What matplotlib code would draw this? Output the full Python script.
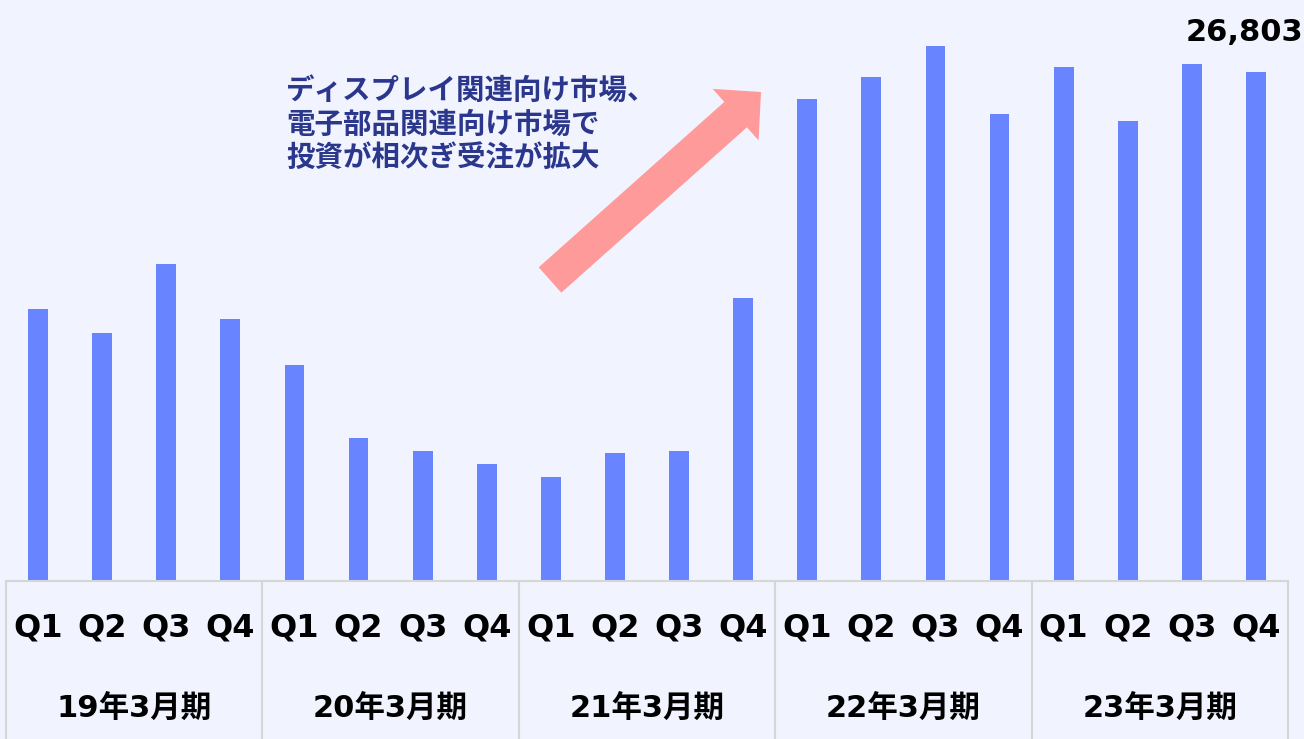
import numpy as np
import matplotlib.pyplot as plt
import matplotlib.patches as patches
import matplotlib.transforms as mtransforms

plt.rcParams['font.family'] = ['DejaVu Sans', 'Noto Sans CJK JP']

# quarterly orders
quarters = ["Q1", "Q2", "Q3", "Q4"]
periods = ["19年3月期", "20年3月期", "21年3月期", "22年3月期", "23年3月期"]
orders = [14320, 13060, 16690, 13800,
          11370, 7530, 6850, 6160,
          5480, 6740, 6850, 14900,
          25380, 26540, 28170, 24590,
          27070, 24220, 27230, 26803]
note = "ディスプレイ関連向け市場、\n電子部品関連向け市場で\n投資が相次ぎ受注が拡大"

bg = "#F1F4FF"
bar_color = "#6884FF"
line_color = "#D6D6D6"

fig = plt.figure(figsize=(13.04, 7.39), dpi=100, facecolor=bg)
ax = fig.add_axes([6 / 1304, 158 / 739, 1282 / 1304, 581 / 739])
ax.set_facecolor(bg)

x = np.arange(len(orders))
ax.bar(x, orders, width=0.31, color=bar_color, zorder=2)
ax.set_xlim(-0.5, len(orders) - 0.5)
ax.set_ylim(0, 30595)
ax.axis("off")

# label table under the bars
trans = mtransforms.blended_transform_factory(ax.transData, ax.transAxes)
ax.plot([-0.5, len(orders) - 0.5], [0, 0], color=line_color, lw=1.5,
        transform=trans, clip_on=False)
for i in range(len(periods) + 1):
    xb = -0.5 + 4 * i
    ax.plot([xb, xb], [0, -0.28], color=line_color, lw=1.5,
            transform=trans, clip_on=False)

for i in x:
    ax.text(i, -0.081, quarters[i % 4], transform=trans, ha="center", va="center",
            fontsize=23, fontweight="bold", color="black")
for g, p in enumerate(periods):
    ax.text(4 * g + 1.5, -0.219, p, transform=trans, ha="center", va="center",
            fontsize=22, fontweight="bold", color="black")

# value label on the last bar
ax.annotate(f"{orders[-1]:,}", (x[-1], orders[-1]), xytext=(-8, 18),
            textcoords="offset points", ha="center", va="bottom",
            fontsize=22, fontweight="bold", color="black", annotation_clip=False)

# overlay in pixel coordinates for the arrow and the note
ov = fig.add_axes([0, 0, 1, 1])
ov.set_xlim(0, 1304)
ov.set_ylim(739, 0)
ov.axis("off")
ov.patch.set_alpha(0)

ov.add_patch(patches.FancyArrow(550, 280, 211, -188, width=34, head_width=69,
                                head_length=34, length_includes_head=True,
                                color="#FF9A9A", lw=0))

ov.text(286, 77, note, ha="left", va="top", fontsize=20.5, fontweight="bold",
        color="#2B378C", linespacing=1.25,
        family=["Noto Sans CJK JP", "DejaVu Sans"])

fig.savefig("out.png", dpi=100, facecolor=bg)
